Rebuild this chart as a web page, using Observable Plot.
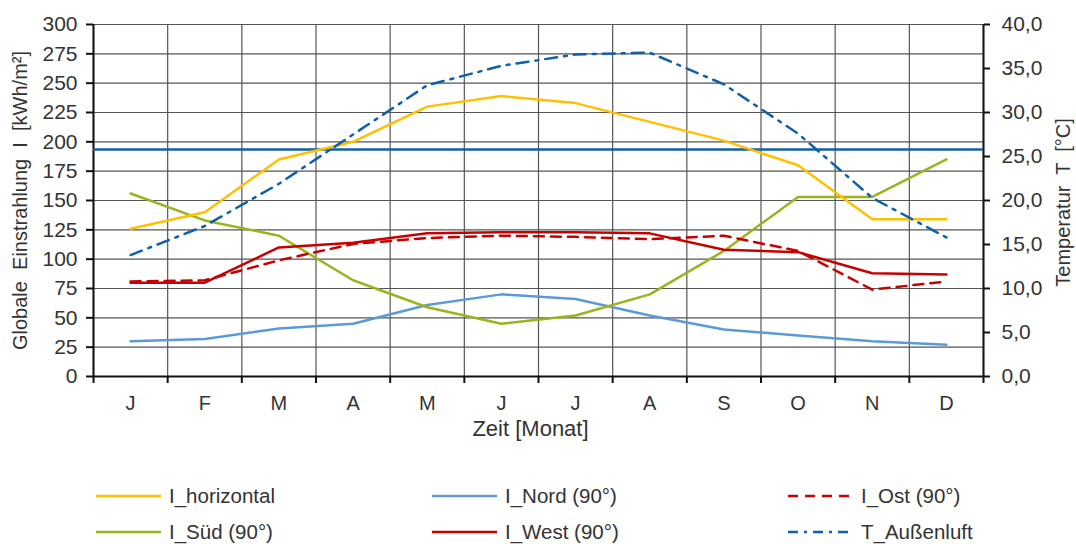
<!DOCTYPE html>
<html>
<head>
<meta charset="utf-8">
<script src="https://cdn.jsdelivr.net/npm/d3@7"></script>
<script src="https://cdn.jsdelivr.net/npm/@observablehq/plot@0.6"></script>
<style>
  html, body { margin: 0; padding: 0; background: #fff; }
  #wrap { position: relative; width: 1076px; height: 544px; overflow: hidden; font-family: "Liberation Sans", Arial, sans-serif; color: #333; }
  .leg { position: absolute; display: flex; align-items: center; font-size: 20.5px; white-space: pre; }
  .leg svg { margin-right: 8px; }
</style>
</head>
<body>
<div id="wrap"></div>
<script>
// ---- data ----
const months = ["J","F","M","A","M","J","J","A","S","O","N","D"];
const iHorizontal = [126, 140, 185, 200, 230, 239, 233, 217, 201, 180, 134, 134];
const iNord       = [30, 32, 41, 45, 61, 70, 66, 52, 40, 35, 30, 27];
const iSued       = [156, 133, 120, 82, 59, 45, 52, 70, 107, 153, 153, 185];
const iWest       = [80, 80, 110, 114, 122, 123, 123, 122, 108, 106, 88, 87];
const iOst        = [81, 82, 99, 113, 118, 120, 119, 117, 120, 107, 74, 81];
const tAussen     = [13.8, 17.1, 21.9, 27.5, 33.1, 35.3, 36.6, 36.8, 33.2, 27.6, 20.3, 15.8];
const tLimit      = [25.8];
const leftTicks   = [0, 25, 50, 75, 100, 125, 150, 175, 200, 225, 250, 275, 300];
const rightTicks  = [0, 5, 10, 15, 20, 25, 30, 35, 40];

const seriesNames = ["I_horizontal", "I_Nord (90°)", "I_Ost (90°)", "I_Süd (90°)", "I_West (90°)", "T_Außenluft"];
const colors = {
  hor: "#FFC000", nord: "#5B9BD5", sued: "#9CB21E", red: "#C80000", blue: "#1060A8"
};

// temperature (0–40 °C) drawn on the irradiation scale (0–300)
const k = 300 / 40;

const idx = d3.range(12);
const mk = (arr) => idx.map(i => ({i: i + 0.5, v: arr[i]}));

const fmtT = d => (d / k).toFixed(1).replace(".", ",");

const plot = Plot.plot({
  width: 1076,
  height: 458,
  marginLeft: 93,
  marginRight: 93,
  marginTop: 24,
  marginBottom: 82,
  style: {fontFamily: "Liberation Sans, Arial, sans-serif", fontSize: "20px", color: "#333", background: "white"},
  x: {type: "linear", domain: [0, 12], axis: null},
  y: {type: "linear", domain: [0, 300], axis: null},
  marks: [
    Plot.gridX(d3.range(13), {stroke: "#555", strokeOpacity: 1, strokeWidth: 1.2}),
    Plot.gridY(leftTicks, {stroke: "#555", strokeOpacity: 1, strokeWidth: 1.2}),
    // axis lines
    Plot.ruleX([0, 12], {stroke: "#111", strokeWidth: 2}),
    Plot.ruleY([0], {stroke: "#111", strokeWidth: 2}),
    // bottom ticks at band boundaries
    Plot.axisX(d3.range(13), {anchor: "bottom", tickSize: 7, stroke: "#111", strokeWidth: 2, tickFormat: () => "", label: null}),
    // month labels at band centres
    Plot.axisX(idx.map(i => i + 0.5), {anchor: "bottom", tickSize: 0, tickPadding: 19, tickFormat: d => months[Math.floor(d)], fill: "#333", fontSize: 20, label: null}),
    // left axis
    Plot.axisY(leftTicks, {anchor: "left", tickSize: 7, tickPadding: 9, stroke: "#111", strokeWidth: 2, fill: "#333", fontSize: 21, label: null}),
    // right axis (temperature)
    Plot.axisY(rightTicks.map(t => t * k), {anchor: "right", tickSize: 6, tickPadding: 12, stroke: "#111", strokeWidth: 2, fill: "#333", fontSize: 21, tickFormat: fmtT, label: null}),
    // axis titles
    Plot.text(["Globale  Einstrahlung  I  [kWh/m²]"], {frameAnchor: "left", textAnchor: "middle", lineAnchor: "middle", dx: -73, dy: 0, rotate: -90, text: d => d, fontSize: 20, fill: "#333"}),
    Plot.text(["Temperatur  T  [°C]"], {frameAnchor: "right", textAnchor: "middle", lineAnchor: "middle", dx: 80, dy: 2, rotate: -90, text: d => d, fontSize: 20, fill: "#333"}),
    Plot.text(["Zeit [Monat]"], {frameAnchor: "bottom", dx: -8, dy: 59, text: d => d, fontSize: 22, fill: "#333"}),
    // threshold line
    Plot.ruleY(tLimit.map(t => t * k), {stroke: colors.blue, strokeWidth: 2.5}),
    // series
    Plot.line(mk(iNord), {x: "i", y: "v", stroke: colors.nord, strokeWidth: 2.5}),
    Plot.line(mk(iSued), {x: "i", y: "v", stroke: colors.sued, strokeWidth: 2.5}),
    Plot.line(mk(iOst), {x: "i", y: "v", stroke: colors.red, strokeWidth: 2.5, strokeDasharray: "10,7"}),
    Plot.line(mk(iWest), {x: "i", y: "v", stroke: colors.red, strokeWidth: 2.5}),
    Plot.line(mk(iHorizontal), {x: "i", y: "v", stroke: colors.hor, strokeWidth: 2.5}),
    Plot.line(idx.map(i => ({i: i + 0.5, v: tAussen[i] * k})), {x: "i", y: "v", stroke: colors.blue, strokeWidth: 2.5, strokeDasharray: "12,7,3,7"})
  ]
});

const wrap = document.getElementById("wrap");
wrap.appendChild(plot);

// legend (HTML, below the SVG)
const legendItems = [
  {name: seriesNames[0], color: colors.hor, dash: null, left: 96, top: 496},
  {name: seriesNames[1], color: colors.nord, dash: null, left: 432, top: 496},
  {name: seriesNames[2], color: colors.red, dash: "10,7", left: 788, top: 496},
  {name: seriesNames[3], color: colors.sued, dash: null, left: 96, top: 532},
  {name: seriesNames[4], color: colors.red, dash: null, left: 432, top: 532},
  {name: seriesNames[5], color: colors.blue, dash: "10,6,3,6", left: 788, top: 532}
];
for (const it of legendItems) {
  const div = document.createElement("div");
  div.className = "leg";
  div.style.left = it.left + "px";
  div.style.top = (it.top - 12) + "px";
  div.style.height = "24px";
  div.innerHTML = `<svg width="65" height="6"><line x1="0" y1="3" x2="65" y2="3" stroke="${it.color}" stroke-width="2.5" ${it.dash ? `stroke-dasharray="${it.dash}"` : ""}/></svg><span>${it.name}</span>`;
  wrap.appendChild(div);
}
</script>
</body>
</html>
